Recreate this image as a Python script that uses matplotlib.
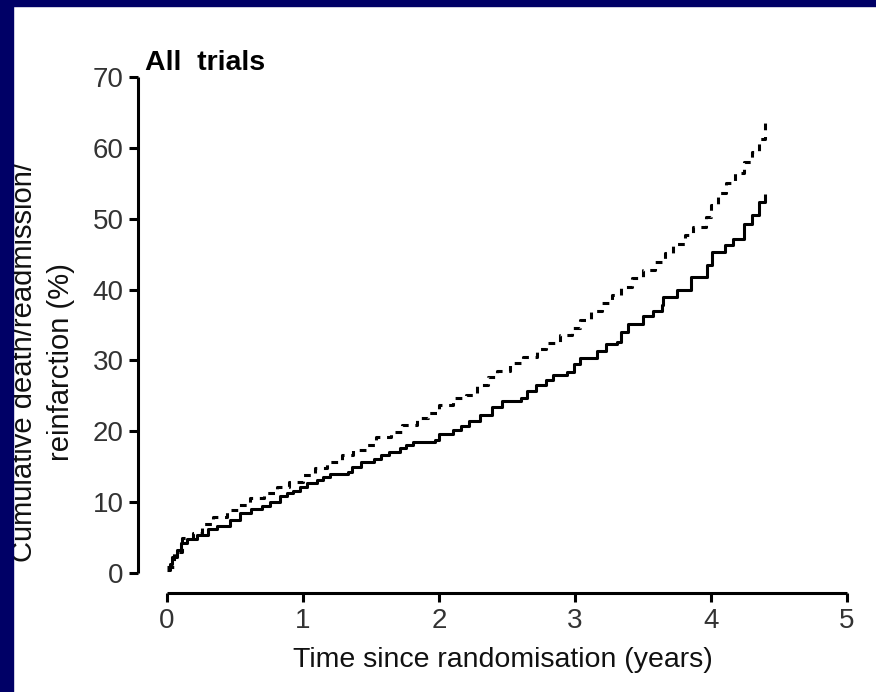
import matplotlib
matplotlib.use("Agg")
import matplotlib.pyplot as plt
from matplotlib.patches import Rectangle

# ---- data ----
solid_x = [0.00, 0.02, 0.04, 0.07, 0.10, 0.15, 0.22, 0.30, 0.37, 0.46, 0.54, 0.62, 0.70, 0.76,
           0.83, 0.88, 0.93, 0.98, 1.03, 1.10, 1.15, 1.20, 1.33, 1.36, 1.43, 1.52, 1.57, 1.63,
           1.71, 1.76, 1.81, 1.97, 2.00, 2.10, 2.16, 2.22, 2.30, 2.39, 2.46, 2.60, 2.65, 2.71,
           2.79, 2.84, 2.94, 2.99, 3.04, 3.16, 3.23, 3.31, 3.34, 3.39, 3.50, 3.57, 3.64, 3.65,
           3.75, 3.85, 3.97, 4.01, 4.10, 4.16, 4.24, 4.30, 4.35, 4.40]
solid_y = [0.4, 1.2, 2.3, 3.2, 4.2, 4.8, 5.3, 6.2, 6.6, 7.5, 8.4, 9.0, 9.5, 10.0,
           10.9, 11.3, 11.6, 12.1, 12.7, 13.1, 13.5, 14.0, 14.2, 15.0, 15.6, 16.1, 16.6, 17.1,
           17.6, 18.0, 18.5, 18.8, 19.6, 20.2, 20.8, 21.5, 22.3, 23.4, 24.3, 24.7, 25.7, 26.6,
           27.2, 27.9, 28.4, 29.5, 30.4, 31.3, 32.3, 32.6, 34.0, 35.2, 36.3, 37.0, 37.8, 38.9,
           39.9, 41.8, 43.4, 45.3, 46.3, 47.2, 49.2, 50.5, 52.3, 53.5]

dashed_x = [0.00, 0.05, 0.11, 0.19, 0.26, 0.34, 0.44, 0.52, 0.61, 0.71, 0.81, 0.90, 1.00, 1.09,
            1.18, 1.29, 1.37, 1.46, 1.54, 1.65, 1.73, 1.84, 1.92, 2.00, 2.10, 2.20, 2.28, 2.36,
            2.43, 2.52, 2.62, 2.72, 2.79, 2.89, 2.98, 3.04, 3.12, 3.20, 3.27, 3.34, 3.42, 3.50,
            3.59, 3.66, 3.72, 3.81, 3.87, 3.96, 4.00, 4.05, 4.11, 4.18, 4.24, 4.30, 4.35, 4.40]
dashed_y = [0.8, 3.0, 4.9, 5.6, 6.9, 7.9, 8.9, 9.6, 10.6, 11.3, 12.1, 12.8, 13.8, 14.8,
            15.7, 16.6, 17.3, 18.0, 19.2, 19.9, 20.9, 21.9, 22.6, 23.7, 24.7, 25.1, 26.5, 27.6,
            28.5, 29.6, 30.5, 31.6, 32.4, 33.6, 34.6, 35.7, 37.0, 38.1, 39.3, 40.4, 41.6, 42.7,
            43.9, 45.1, 46.5, 47.7, 48.9, 50.3, 51.9, 53.6, 55.0, 56.4, 58.0, 59.4, 61.2, 63.5]

x_ticks = [0, 1, 2, 3, 4, 5]
y_ticks = [0, 10, 20, 30, 40, 50, 60, 70]
title = "All  trials"
xlabel = "Time since randomisation (years)"
ylabel_lines = ["Cumulative death/readmission/", "reinfarction (%)"]

W, H = 876, 692
DPI = 100
fig = plt.figure(figsize=(W / DPI, H / DPI), dpi=DPI, facecolor="white")

navy = "#000066"

left, right = 167 / W, 847 / W
bottom, top = 1 - 573 / H, 1 - 77 / H
ax = fig.add_axes([left, bottom, right - left, top - bottom])
ax.set_facecolor("white")

lw = 2.2
ax.plot(solid_x, solid_y, color="black", lw=lw, drawstyle="steps-post", solid_capstyle="butt")
ax.plot(dashed_x, dashed_y, color="black", lw=lw, drawstyle="steps-post",
        linestyle=(0, (2.2, 2.2)), dash_capstyle="butt")

ax.set_xlim(0, 5)
ax.set_ylim(0, 70)
ax.set_xticks(x_ticks)
ax.set_yticks(y_ticks)

for s in ["top", "right"]:
    ax.spines[s].set_visible(False)
ax.spines["left"].set_position(("outward", 29 * 72 / DPI))
ax.spines["bottom"].set_position(("outward", 20 * 72 / DPI))
for s in ["left", "bottom"]:
    ax.spines[s].set_linewidth(2.2)
    ax.spines[s].set_capstyle("butt")

font = "Liberation Sans"
ax.tick_params(axis="both", direction="out", length=6.5, width=2.2, labelsize=20,
               labelcolor="#333333", pad=4)
for lab in ax.get_xticklabels() + ax.get_yticklabels():
    lab.set_family(font)

# x label
fig.text(503 / W, 1 - 667 / H, xlabel, fontsize=20.5, family=font, color="#111111",
         ha="center", va="baseline")

# y label (two rotated lines)
fig.text(24 / W, 1 - 362 / H, ylabel_lines[0], fontsize=21, family=font, color="#111111",
         rotation=90, ha="center", va="center")
fig.text(61 / W, 1 - 362 / H, ylabel_lines[1], fontsize=21, family=font, color="#111111",
         rotation=90, ha="center", va="center")

fig.text(145 / W, 1 - 70 / H, title, fontsize=20.5, fontweight="bold", family=font,
         va="baseline", ha="left")

# navy frame strips (drawn on top)
fig.patches.append(Rectangle((0, 0), 13 / W, 1, transform=fig.transFigure, color=navy, zorder=10))
fig.patches.append(Rectangle((0, 1 - 6 / H), 1, 6 / H, transform=fig.transFigure, color=navy, zorder=10))

fig.savefig("out.png", dpi=DPI, facecolor="white")
